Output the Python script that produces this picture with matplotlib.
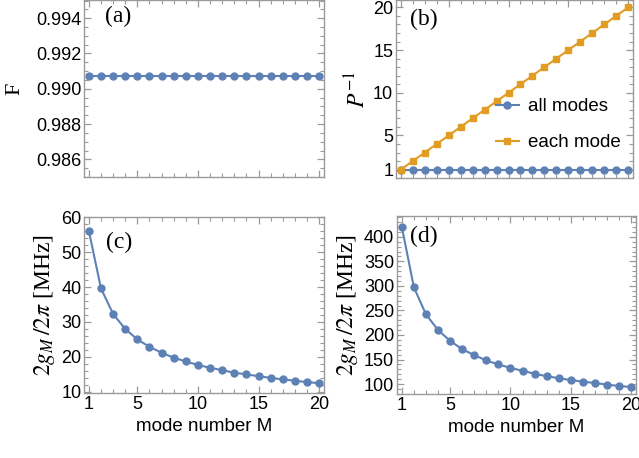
import numpy as np
import matplotlib
matplotlib.use("Agg")
import matplotlib.pyplot as plt
from matplotlib.ticker import FixedLocator, MultipleLocator, NullFormatter, FormatStrFormatter

# mode numbers
modes = list(range(1, 21))

# (a) fidelity, constant over M
fidelity = [0.99073] * 20

# (b) inverse purity
p_inv_all = [1] * 20
p_inv_each = [1, 2, 3, 4, 5, 6, 7, 8, 9, 10, 11, 12, 13, 14, 15, 16, 17, 18, 19, 20]

# (c), (d) coupling 2g_M/2pi in MHz
g_c = [56.0, 39.6, 32.3, 28.0, 25.0, 22.9, 21.2, 19.8, 18.7, 17.7,
       16.9, 16.2, 15.5, 15.0, 14.5, 14.0, 13.6, 13.2, 12.8, 12.5]
g_d = [420, 297, 242, 210, 188, 171, 159, 148, 140, 133,
       127, 121, 116, 112, 108, 105, 102, 99, 96, 94]

x_ticks = [1, 5, 10, 15, 20]

blue = "#5E81B5"
orange = "#E19C24"
frame = "#9a9a9a"

plt.rcParams["font.family"] = ["Liberation Sans", "DejaVu Sans"]
plt.rcParams["mathtext.fontset"] = "stix"
serif = "Liberation Serif"

fig = plt.figure(figsize=(6.39, 4.58), dpi=100)
ax_a = fig.add_axes([0.1315, 0.6135, 0.3756, 0.3865])
ax_b = fig.add_axes([0.6197, 0.611, 0.3709, 0.389])
ax_c = fig.add_axes([0.1315, 0.142, 0.3756, 0.384])
ax_d = fig.add_axes([0.6213, 0.140, 0.374, 0.388])


def style(ax, show_x):
    for s in ax.spines.values():
        s.set_color(frame)
        s.set_linewidth(1.0)
    ax.tick_params(which="both", direction="in", top=True, right=True,
                   color=frame, labelsize=13, labelcolor="black", pad=2)
    ax.tick_params(which="major", length=5, width=0.9)
    ax.tick_params(which="minor", length=3, width=0.8)
    ax.set_xlim(0.6, 20.4)
    ax.xaxis.set_major_locator(FixedLocator(x_ticks))
    ax.xaxis.set_minor_locator(MultipleLocator(1))
    if not show_x:
        ax.xaxis.set_major_formatter(NullFormatter())
    else:
        ax.set_xlabel("mode number M", fontsize=13.5, labelpad=4)


# (a)
ax_a.plot(modes, fidelity, "-o", color=blue, lw=1.5, ms=5)
ax_a.set_ylim(0.985, 0.99503)
ax_a.yaxis.set_major_locator(FixedLocator([0.986, 0.988, 0.990, 0.992, 0.994]))
ax_a.yaxis.set_minor_locator(MultipleLocator(0.0005))
ax_a.yaxis.set_major_formatter(FormatStrFormatter("%.3f"))
ax_a.set_ylabel("F", family=serif, fontsize=16, labelpad=8)
style(ax_a, False)
ax_a.text(0.0875, 0.965, "(a)", transform=ax_a.transAxes, family=serif,
          fontsize=17, va="top")

# (b)
ax_b.plot(modes, p_inv_all, "-o", color=blue, lw=1.5, ms=5, label="all modes")
ax_b.plot(modes, p_inv_each, "-s", color=orange, lw=1.5, ms=5, label="each mode")
ax_b.set_ylim(0, 20.86)
ax_b.yaxis.set_major_locator(FixedLocator([1, 5, 10, 15, 20]))
ax_b.yaxis.set_minor_locator(MultipleLocator(1))
ax_b.set_ylabel(r"$P^{-1}$", fontsize=17, labelpad=2)
style(ax_b, False)
ax_b.text(0.06, 0.95, "(b)", transform=ax_b.transAxes, family=serif,
          fontsize=17, va="top")
ax_b.legend(loc="center right", bbox_to_anchor=(1.02, 0.30), frameon=False,
            fontsize=13.5, handlelength=1.2, handletextpad=0.5, labelspacing=1.0)

# (c)
ax_c.plot(modes, g_c, "-o", color=blue, lw=1.5, ms=5)
ax_c.set_ylim(9.7, 60)
ax_c.yaxis.set_major_locator(FixedLocator([10, 20, 30, 40, 50, 60]))
ax_c.yaxis.set_minor_locator(MultipleLocator(2))
ax_c.set_ylabel(r"$2g_M\,/2\pi$ [MHz]", family=serif, fontsize=17, labelpad=3)
style(ax_c, True)
ax_c.text(0.09, 0.915, "(c)", transform=ax_c.transAxes, family=serif,
          fontsize=17, va="top")

# (d)
ax_d.plot(modes, g_d, "-o", color=blue, lw=1.5, ms=5)
ax_d.set_ylim(80, 442)
ax_d.yaxis.set_major_locator(FixedLocator([100, 150, 200, 250, 300, 350, 400]))
ax_d.yaxis.set_minor_locator(MultipleLocator(10))
ax_d.set_ylabel(r"$2g_M\,/2\pi$ [MHz]", family=serif, fontsize=17, labelpad=3)
style(ax_d, True)
ax_d.text(0.055, 0.945, "(d)", transform=ax_d.transAxes, family=serif,
          fontsize=17, va="top")

fig.savefig("out.png", dpi=100)
